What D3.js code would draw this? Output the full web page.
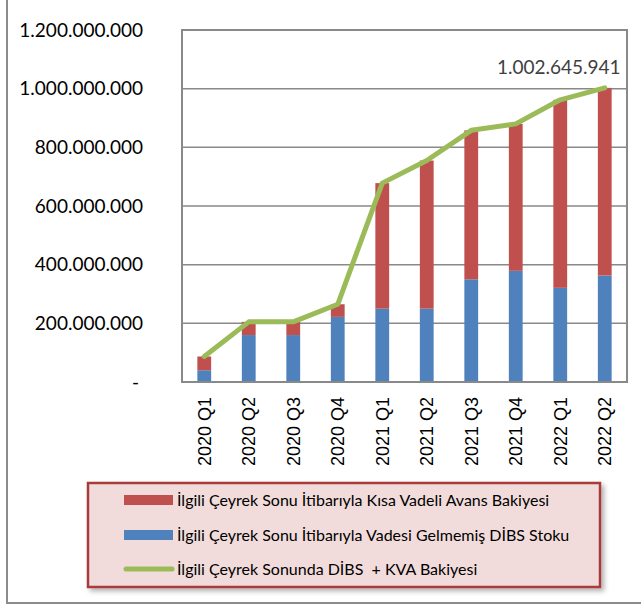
<!DOCTYPE html>
<html>
<head>
<meta charset="utf-8">
<script src="https://cdn.jsdelivr.net/npm/d3@7"></script>
<style>
  body { margin: 0; background: #fff; }
  svg { display: block; }
</style>
</head>
<body>
<div id="chart"></div>
<script>
// quarters and values (TL)
const quarters = ["2020 Q1", "2020 Q2", "2020 Q3", "2020 Q4", "2021 Q1", "2021 Q2", "2021 Q3", "2021 Q4", "2022 Q1", "2022 Q2"];
const dibsStock = [40e6, 160e6, 160e6, 222e6, 250e6, 250e6, 350e6, 379e6, 321e6, 363e6];
const totalBalance = [87e6, 205e6, 205e6, 265e6, 678e6, 755e6, 858e6, 880e6, 962e6, 1002645941];
const kvaBalance = totalBalance.map((t, i) => t - dibsStock[i]);
const yTicks = [0, 200e6, 400e6, 600e6, 800e6, 1000e6, 1200e6];
const legendLabels = [
    "İlgili Çeyrek Sonu İtibarıyla Kısa Vadeli Avans Bakiyesi",
    "İlgili Çeyrek Sonu İtibarıyla Vadesi Gelmemiş DİBS Stoku",
    "İlgili Çeyrek Sonunda DİBS  + KVA Bakiyesi"
];

const width = 641, height = 604;
const red = "#C0504D", blue = "#4F81BD", green = "#9BBB59", grid = "#898989";

const svg = d3.select("#chart").append("svg")
    .attr("width", width)
    .attr("height", height);

// outer frame (only left and bottom edges are visible in the picture)
svg.append("rect")
    .attr("x", 7).attr("y", -10)
    .attr("width", 700).attr("height", 613)
    .attr("fill", "none")
    .attr("stroke", "#8c8c8c")
    .attr("stroke-width", 2);

const plot = { left: 182, right: 627, top: 30, bottom: 382 };

const x = d3.scaleBand()
    .domain(quarters)
    .range([plot.left, plot.right])
    .paddingInner(0.69)
    .paddingOuter(0.345);

const y = d3.scaleLinear()
    .domain([0, 1200e6])
    .range([plot.bottom, plot.top]);

const fmt = v => v === 0 ? "-" : d3.format(",")(v).replace(/,/g, ".");

// gridlines
svg.append("g").selectAll("line")
    .data(yTicks)
    .enter().append("line")
    .attr("x1", plot.left).attr("x2", plot.right)
    .attr("y1", d => y(d)).attr("y2", d => y(d))
    .attr("stroke", grid)
    .attr("stroke-width", 1.5);

// y axis labels
const yAxis = svg.append("g")
    .attr("transform", `translate(${plot.left},0)`)
    .call(d3.axisLeft(y).tickValues(yTicks).tickFormat(fmt).tickSize(0).tickPadding(39));
yAxis.select(".domain").remove();
yAxis.selectAll("text")
    .attr("font-family", "Lato, sans-serif")
    .attr("font-size", 19)
    .attr("fill", "#000");
yAxis.selectAll(".tick").filter(d => d === 0).select("text").attr("dx", -4);

// stacked bars
const bars = svg.append("g");
bars.selectAll("rect.blue")
    .data(quarters)
    .enter().append("rect")
    .attr("class", "blue")
    .attr("x", d => x(d))
    .attr("width", x.bandwidth())
    .attr("y", (d, i) => y(dibsStock[i]))
    .attr("height", (d, i) => y(0) - y(dibsStock[i]))
    .attr("fill", blue);
bars.selectAll("rect.red")
    .data(quarters)
    .enter().append("rect")
    .attr("class", "red")
    .attr("x", d => x(d))
    .attr("width", x.bandwidth())
    .attr("y", (d, i) => y(dibsStock[i] + kvaBalance[i]))
    .attr("height", (d, i) => y(dibsStock[i]) - y(dibsStock[i] + kvaBalance[i]))
    .attr("fill", red);

// plot border
svg.append("path")
    .attr("d", `M${plot.left},${plot.top}H${plot.right}V${plot.bottom}H${plot.left}Z`)
    .attr("fill", "none")
    .attr("stroke", grid)
    .attr("stroke-width", 2);

// total line
const line = d3.line()
    .x((d, i) => x(quarters[i]) + x.bandwidth() / 2)
    .y(d => y(d));
svg.append("path")
    .datum(totalBalance)
    .attr("d", line)
    .attr("fill", "none")
    .attr("stroke", green)
    .attr("stroke-width", 5)
    .attr("stroke-linejoin", "round")
    .attr("stroke-linecap", "round");

// last value label
const last = totalBalance.length - 1;
svg.append("text")
    .attr("x", x(quarters[last]) + x.bandwidth() / 2 - 46)
    .attr("y", y(totalBalance[last]) - 14)
    .attr("text-anchor", "middle")
    .attr("font-family", "Lato, sans-serif")
    .attr("font-size", 19)
    .attr("fill", "#404040")
    .text(fmt(totalBalance[last]));

// x labels
const xAxis = svg.append("g")
    .attr("transform", `translate(0,${plot.bottom})`)
    .call(d3.axisBottom(x).tickSize(0).tickPadding(0));
xAxis.select(".domain").remove();
xAxis.selectAll("text")
    .attr("font-family", "'Liberation Sans', Arial, sans-serif")
    .attr("font-size", 18)
    .attr("fill", "#000")
    .attr("text-anchor", "end")
    .attr("transform", "rotate(-90)")
    .attr("x", -15)
    .attr("y", 0)
    .attr("dy", "0.36em");

// legend
const defs = svg.append("defs");
const shadow = defs.append("filter").attr("id", "shadow")
    .attr("x", "-5%").attr("y", "-10%").attr("width", "115%").attr("height", "130%");
shadow.append("feDropShadow")
    .attr("dx", 3).attr("dy", 3).attr("stdDeviation", 2.5)
    .attr("flood-color", "#000").attr("flood-opacity", 0.3);

const legend = svg.append("g");
legend.append("rect")
    .attr("x", 88).attr("y", 483)
    .attr("width", 512).attr("height", 104)
    .attr("fill", "#F2DCDB")
    .attr("stroke", "#A83A3A")
    .attr("stroke-width", 2.5)
    .attr("filter", "url(#shadow)");

const rowY = [500, 535, 569];
const legendColors = [red, blue, green];
legend.selectAll("g.item")
    .data(legendLabels)
    .enter().append("g")
    .attr("class", "item")
    .attr("transform", (d, i) => `translate(0,${rowY[i]})`)
    .each(function(d, i) {
        const g = d3.select(this);
        if (i < 2) {
            g.append("rect")
                .attr("x", 124).attr("y", -5)
                .attr("width", 49).attr("height", 10)
                .attr("fill", legendColors[i]);
        } else {
            g.append("line")
                .attr("x1", 126).attr("x2", 172)
                .attr("stroke", green)
                .attr("stroke-width", 5)
                .attr("stroke-linecap", "round");
        }
        g.append("text")
            .attr("x", 177)
            .attr("dy", "0.35em")
            .attr("font-family", "Lato, sans-serif")
            .attr("font-size", 16)
            .attr("fill", "#000")
            .style("white-space", "pre")
            .text(d);
    });
</script>
</body>
</html>
